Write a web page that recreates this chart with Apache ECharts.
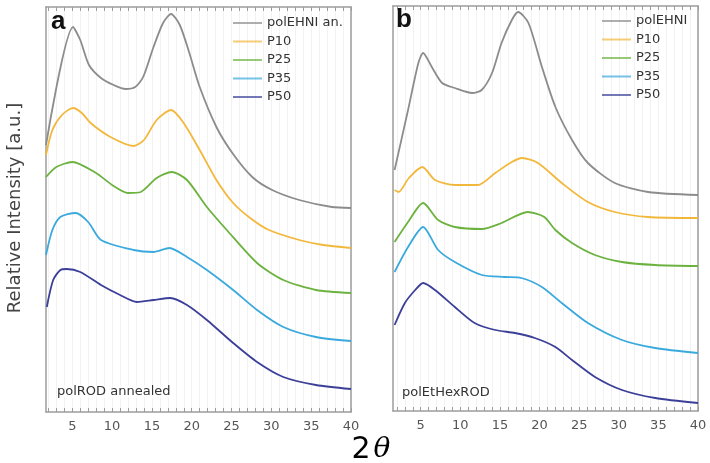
<!DOCTYPE html>
<html>
<head>
<meta charset="utf-8">
<script src="https://cdn.jsdelivr.net/npm/echarts@6/dist/echarts.min.js"></script>
<style>
  html, body { margin: 0; padding: 0; background: #fff; }
  #chart { width: 710px; height: 463px; }
</style>
</head>
<body>
<div id="chart"></div>
<script>
// tick positions
var tickValues = [];
for (var t = 2; t <= 40; t++) tickValues.push(t);
var labelValues = [5, 10, 15, 20, 25, 30, 35, 40];

var namesA = ['polEHNI an.', 'P10', 'P25', 'P35', 'P50'];
var namesB = ['polEHNI', 'P10', 'P25', 'P35', 'P50'];
var colors = ['#8c8c8c', '#f2b83c', '#6cb23f', '#3aa9dd', '#3b3f98'];

// panel a (polROD annealed)
var aGrayX = [1.7, 5.1, 6, 7.1, 8.6, 10.2, 11.7, 12.9, 13.9, 15.2, 16.4, 17.4, 18.5, 19.7, 21, 23.1, 25.1, 27.6, 30.1, 33.5, 37.6, 40];
var aGrayY = [267, 385, 372, 347, 334, 327, 323, 325, 335, 365, 389, 398, 387, 359, 325, 285, 259, 235, 222, 212, 205, 204];
var aP10X = [1.7, 2.5, 3.7, 5.1, 6.2, 7.3, 9.8, 12.7, 14, 15.6, 17.4, 18.9, 21, 23.1, 25.2, 27.5, 29.7, 33.5, 36.5, 40];
var aP10Y = [257, 282, 297, 304, 299, 289, 275, 266, 272, 292, 302, 290, 262, 232, 209, 193, 182, 172, 167, 164];
var aP25X = [1.7, 3, 5, 8, 10, 12, 13.6, 15.6, 17.5, 19.4, 21.9, 24.4, 28.2, 31.5, 35.6, 40];
var aP25Y = [235, 245, 250, 239, 227, 219, 220, 234, 240, 232, 205, 182, 149, 132, 122, 119];
var aP35X = [1.7, 2.5, 3.5, 5.4, 7, 8.6, 12.7, 15.2, 17.2, 19.4, 21.9, 25.2, 28.2, 31.5, 35.6, 40];
var aP35Y = [157, 182, 195, 199, 190, 172, 162, 160, 164, 155, 142, 122, 102, 85, 75, 71];
var aP50X = [1.8, 2.6, 3.5, 4.3, 6, 8.6, 11, 13.1, 15.2, 17.3, 19.4, 21.9, 25.2, 28.2, 31.5, 35.6, 40];
var aP50Y = [105, 132, 142, 143, 140, 127, 117, 110, 112, 114, 107, 92, 69, 50, 35, 27, 23];

// panel b (polEtHexROD)
var bGrayX = [1.7, 3.4, 4.7, 5.3, 6.4, 7.7, 9.3, 11.5, 12.7, 14, 15.2, 16.5, 17.3, 18.6, 20.3, 22, 24.1, 26.1, 29.5, 33.7, 40];
var bGrayY = [241, 301, 348, 358, 344, 328, 323, 318, 321, 338, 368, 391, 399, 388, 344, 304, 271, 248, 228, 219, 216];
var bP10X = [1.7, 2.2, 3.5, 5.2, 6.8, 9.3, 12.2, 14.4, 16.5, 17.8, 19.8, 22.8, 26.1, 29.5, 33.7, 40];
var bP10Y = [221, 219, 233, 244, 231, 226, 226, 238, 249, 253, 248, 228, 209, 199, 194, 193];
var bP25X = [1.7, 3.4, 5.3, 7.2, 9.3, 12.7, 15.2, 18.5, 20.6, 22, 24.1, 27, 30.4, 34.6, 40];
var bP25Y = [169, 189, 208, 191, 184, 182, 188, 199, 194, 181, 168, 156, 149, 146, 145];
var bP35X = [1.7, 3.4, 5.3, 7.2, 9.3, 12.7, 15.6, 17.7, 20.3, 22.8, 26.1, 30.4, 34.6, 40];
var bP35Y = [139, 164, 184, 161, 149, 136, 134, 133, 124, 108, 88, 71, 63, 58];
var bP50X = [1.7, 3, 4.3, 5.3, 6.8, 9.3, 11.8, 14.4, 16.9, 19.4, 22, 24.1, 27, 30.4, 34.6, 40];
var bP50Y = [86, 108, 121, 128, 121, 104, 88, 81, 78, 73, 64, 51, 34, 21, 13, 8];

function zip(xs, ys) {
    var out = [];
    for (var i = 0; i < xs.length; i++) out.push([xs[i], ys[i]]);
    return out;
}

var frameColor = '#9c9c9c';
var font = 'DejaVu Sans';

function bottomAxis(grid, min) {
    return {
        type: 'value', gridIndex: grid, position: 'bottom', min: min, max: 40,
        axisLine: { show: true, onZero: false, lineStyle: { color: frameColor, width: 1.5 } },
        axisTick: { show: true, inside: true, length: 4, customValues: tickValues, lineStyle: { color: frameColor } },
        axisLabel: { customValues: labelValues, margin: 8, fontSize: 13, color: '#555', fontFamily: font },
        splitLine: { show: true, customValues: tickValues, lineStyle: { color: '#f2f2f2', width: 1 } }
    };
}
function topAxis(grid, min) {
    return {
        type: 'value', gridIndex: grid, position: 'top', min: min, max: 40,
        axisLine: { show: true, onZero: false, lineStyle: { color: frameColor, width: 1.5 } },
        axisTick: { show: true, inside: true, length: 4, customValues: tickValues, lineStyle: { color: frameColor } },
        axisLabel: { show: false },
        splitLine: { show: false }
    };
}
function sideAxis(grid, pos) {
    return {
        type: 'value', gridIndex: grid, position: pos, min: 0, max: 405,
        axisLine: { show: true, onZero: false, lineStyle: { color: frameColor, width: 1.5 } },
        axisTick: { show: false }, axisLabel: { show: false }, splitLine: { show: false }
    };
}

function lineSeries(name, xi, yi, data, color) {
    return {
        name: name, type: 'line', xAxisIndex: xi, yAxisIndex: yi,
        data: data, showSymbol: false, smooth: 0.25,
        lineStyle: { color: color, width: 1.8 }, itemStyle: { color: color }
    };
}

function legendFor(names, left, top) {
    return {
        data: names, orient: 'vertical', left: left, top: top,
        icon: 'rect', itemWidth: 29, itemHeight: 2, itemGap: 4.5,
        itemStyle: { opacity: 0.7 },
        textStyle: { fontSize: 13, color: '#333', fontFamily: font, lineHeight: 14 },
        selectedMode: false
    };
}

var chart = echarts.init(document.getElementById('chart'));
chart.setOption({
    animation: false,
    backgroundColor: '#fff',
    grid: [
        { left: 46, right: 359, top: 7, bottom: 51 },
        { left: 393, right: 12, top: 6, bottom: 52 }
    ],
    xAxis: [bottomAxis(0, 1.7), topAxis(0, 1.7), bottomAxis(1, 1.5), topAxis(1, 1.5)],
    yAxis: [sideAxis(0, 'left'), sideAxis(0, 'right'), sideAxis(1, 'left'), sideAxis(1, 'right')],
    legend: [legendFor(namesA, 228, 11), legendFor(namesB, 597, 9)],
    series: [
        lineSeries(namesA[0], 0, 0, zip(aGrayX, aGrayY), colors[0]),
        lineSeries(namesA[1], 0, 0, zip(aP10X, aP10Y), colors[1]),
        lineSeries(namesA[2], 0, 0, zip(aP25X, aP25Y), colors[2]),
        lineSeries(namesA[3], 0, 0, zip(aP35X, aP35Y), colors[3]),
        lineSeries(namesA[4], 0, 0, zip(aP50X, aP50Y), colors[4]),
        lineSeries(namesB[0], 2, 2, zip(bGrayX, bGrayY), colors[0]),
        lineSeries(namesB[1], 2, 2, zip(bP10X, bP10Y), colors[1]),
        lineSeries(namesB[2], 2, 2, zip(bP25X, bP25Y), colors[2]),
        lineSeries(namesB[3], 2, 2, zip(bP35X, bP35Y), colors[3]),
        lineSeries(namesB[4], 2, 2, zip(bP50X, bP50Y), colors[4])
    ],
    graphic: [
        { type: 'text', left: 51, top: 9, z: 100, style: { text: 'a', fontSize: 26, fontWeight: 'bold', fontFamily: 'Liberation Sans', fill: '#111' } },
        { type: 'text', left: 396, top: 7, z: 100, style: { text: 'b', fontSize: 26, fontWeight: 'bold', fontFamily: 'Liberation Sans', fill: '#111' } },
        { type: 'text', left: 57, top: 385, z: 100, style: { text: 'polROD annealed', fontSize: 13, fontFamily: font, fill: '#333', backgroundColor: 'rgba(255,255,255,0.6)' } },
        { type: 'text', left: 402, top: 386, z: 100, style: { text: 'polEtHexROD', fontSize: 13, fontFamily: font, fill: '#333', backgroundColor: 'rgba(255,255,255,0.6)' } },
        {
            type: 'text', x: 15, y: 208, rotation: Math.PI / 2,
            style: { text: 'Relative Intensity [a.u.]', fontSize: 18, fontFamily: font, fill: '#444', align: 'center', verticalAlign: 'middle' }
        },
        {
            type: 'text', x: 371, y: 450,
            style: {
                text: '{n|2}{t|θ}', align: 'center', verticalAlign: 'middle',
                rich: {
                    n: { fontSize: 30, fontFamily: font, color: '#333' },
                    t: { fontSize: 28, fontStyle: 'italic', fontFamily: 'DejaVu Serif', color: '#333', padding: [0, 0, 0, 3] }
                }
            }
        }
    ]
});
</script>
</body>
</html>
